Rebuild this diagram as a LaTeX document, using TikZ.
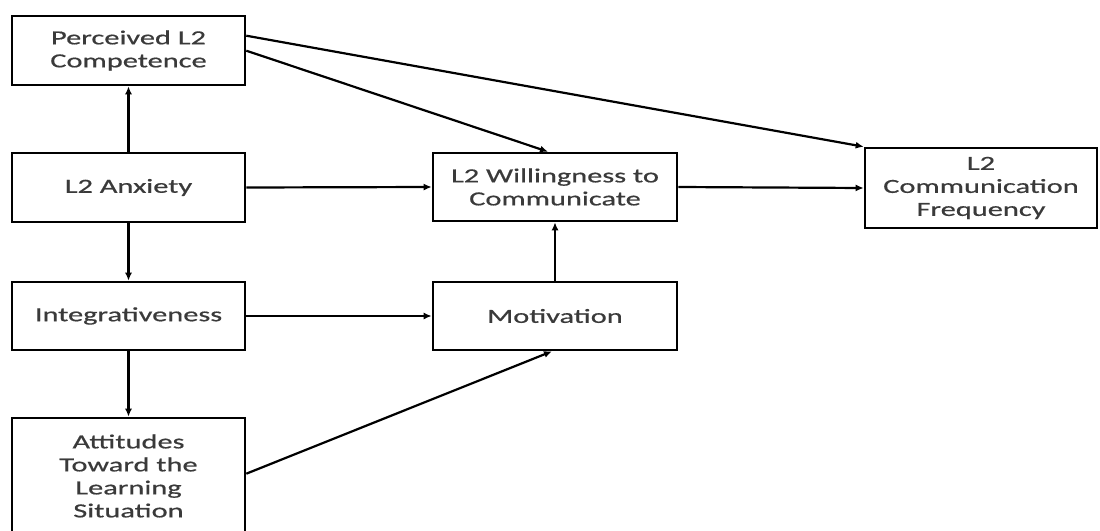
\documentclass[tikz,border=0pt]{standalone}
\usepackage{fontspec}
\setmainfont{Carlito}[FakeStretch=1.52,FakeBold=0.6]
\usetikzlibrary{arrows.meta,calc}
\definecolor{txt}{HTML}{3a3a3a}
\begin{document}
\begin{tikzpicture}[x=1pt,y=-1pt,
  box/.style={draw=black,line width=2.6pt,fill=white,align=center,text=txt,font=\fontsize{20}{23}\selectfont,inner sep=0pt},
  conn/.style={line width=2.2pt,-{Latex[length=8pt,width=7pt]}}]
\useasboundingbox[fill=white] (0,0) rectangle (1100,530);
\node[box,minimum width=233pt,minimum height=69pt] (perc) at (128.5,50.5) {Perceived L2\\Competence};
\node[box,minimum width=233pt,minimum height=69pt] (anx) at (128.5,187.5) {L2 Anxiety};
\node[box,minimum width=233pt,minimum height=68pt] (integ) at (128.5,316) {Integrativeness};
\node[box,minimum width=233pt,minimum height=116pt] (att) at (128.5,476) {Attitudes\\Toward the\\Learning\\Situation};
\node[box,minimum width=244pt,minimum height=68pt] (wtc) at (555,187) {L2 Willingness to\\Communicate};
\node[box,minimum width=244pt,minimum height=68pt] (mot) at (555,316) {Motivation};
\node[box,minimum width=232pt,minimum height=80pt] (freq) at (981,188) {L2\\Communication\\Frequency};
\coordinate (p1) at ($(perc.north east)+(0,21)$);
\coordinate (p2) at ($(perc.north east)+(0,36)$);
\coordinate (wtop) at ($(wtc.north)+(-7,0)$);
\coordinate (a1) at ($(att.north east)+(0,57)$);
\coordinate (mbot) at ($(mot.south)+(-3,0)$);
\draw[conn] (anx.north) -- (perc.south);
\draw[conn] (anx.south) -- (integ.north);
\draw[conn] (integ.south) -- (att.north);
\draw[conn] (anx.east) -- (wtc.west);
\draw[conn] (integ.east) -- (mot.west);
\draw[conn] (mot.north) -- (wtc.south);
\draw[conn] (wtc.east) -- (freq.west);
\draw[conn] (p1) -- (freq.north west);
\draw[conn] (p2) -- (wtop);
\draw[conn] (a1) -- (mbot);
\end{tikzpicture}
\end{document}
